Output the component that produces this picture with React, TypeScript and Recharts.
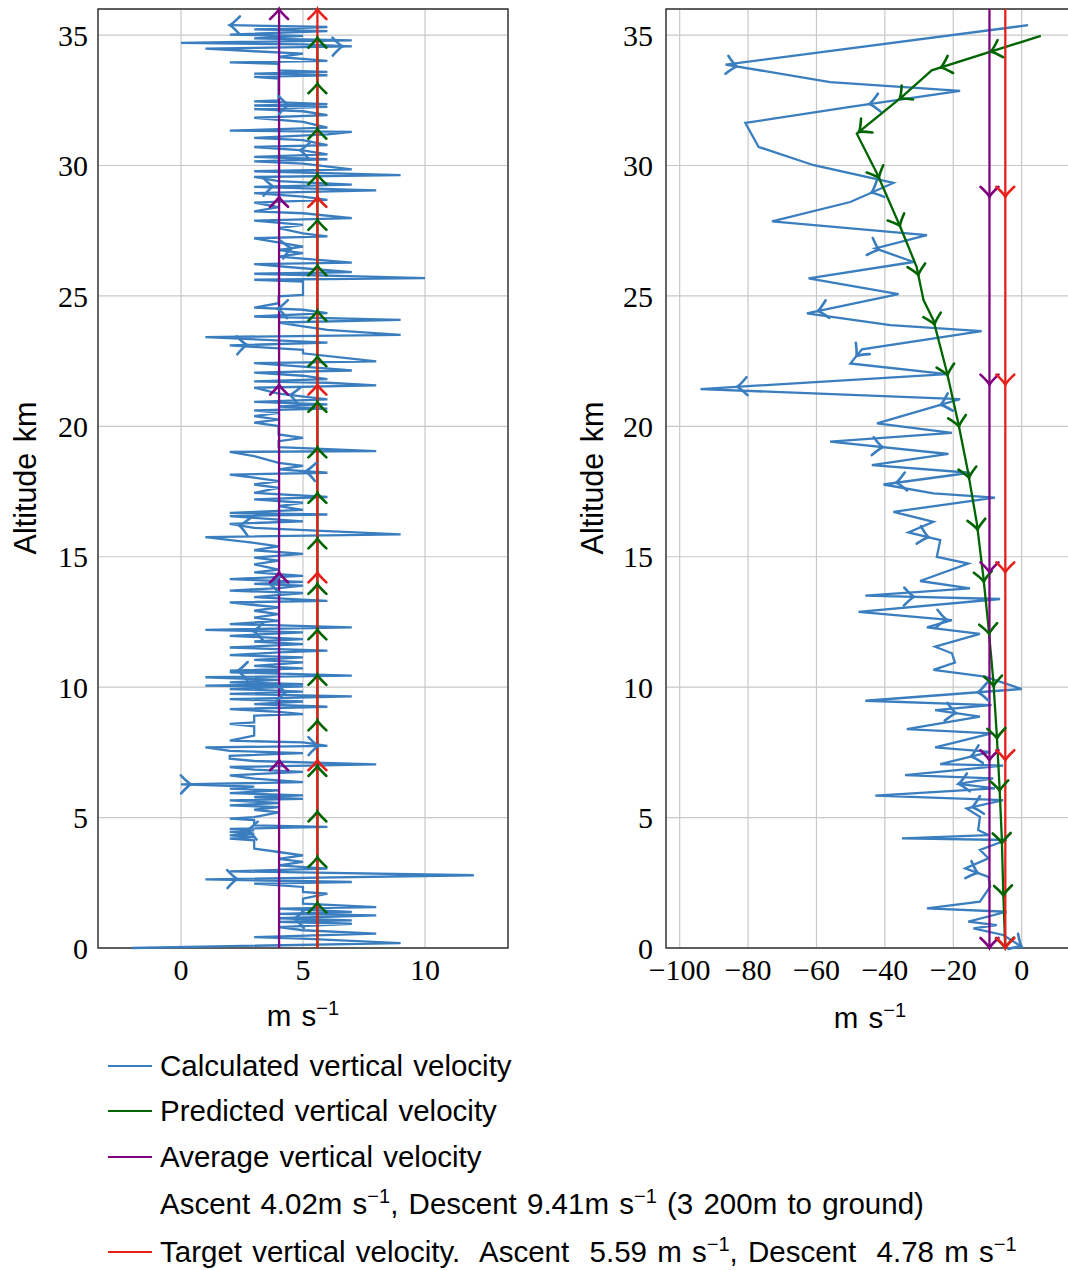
import React from 'react';
import { LineChart, Line, XAxis, YAxis, CartesianGrid, ReferenceArea } from 'recharts';

// ---- data: [velocity m/s, altitude km] ----
const ascentCalculated: [number, number][] = [
  [-2, 0.0], [9, 0.19], [5, 0.36], [3, 0.42], [8, 0.55], [5, 0.68], [4, 0.8], [7, 0.93], [4, 1.0], [7, 1.06],
  [4, 1.14], [8, 1.25], [4, 1.31], [7, 1.38], [4, 1.51], [8, 1.57], [5, 1.7], [5, 1.89], [6, 2.08], [5, 2.15],
  [5, 2.34], [3, 2.47], [7, 2.53], [1, 2.63], [12, 2.79], [2, 2.94], [6, 3.04], [4, 3.17], [5, 3.3], [4, 3.42],
  [5, 3.55], [4, 3.68], [3, 3.81], [3, 4.13], [2, 4.19], [3, 4.25], [2, 4.32], [3, 4.38], [2, 4.45], [3, 4.51],
  [2, 4.57], [6, 4.64], [3, 4.7], [3, 4.9], [2, 4.96], [3, 5.02], [4, 5.2], [3, 5.3], [4, 5.4], [2, 5.47],
  [4, 5.56], [2, 5.66], [5, 5.72], [3, 5.79], [5, 5.85], [2, 5.94], [4, 6.04], [2, 6.11], [3, 6.19], [0, 6.27],
  [5, 6.36], [3, 6.49], [2, 6.62], [5, 6.75], [3, 6.84], [2, 6.94], [8, 7.04], [3, 7.17], [2, 7.26], [2, 7.37],
  [5, 7.47], [2, 7.56], [1, 7.69], [6, 7.75], [5, 7.88], [2, 7.95], [3, 8.14], [3, 8.5], [2, 8.59], [3, 8.65],
  [3, 8.91], [5, 8.97], [4, 9.05], [2, 9.16], [6, 9.25], [3, 9.35], [5, 9.45], [2, 9.54], [7, 9.65], [2, 9.74],
  [5, 9.83], [2, 9.93], [5, 10.03], [1, 10.06], [5, 10.12], [2, 10.18], [4, 10.28], [1, 10.38], [7, 10.44], [2, 10.57],
  [4, 10.6], [2, 10.63], [5, 10.72], [3, 10.82], [5, 10.95], [3, 11.05], [5, 11.14], [2, 11.23], [4, 11.33], [6, 11.4],
  [2, 11.52], [5, 11.65], [3, 11.75], [5, 11.84], [2, 11.97], [5, 12.1], [1, 12.2], [7, 12.29], [2, 12.42], [4, 12.54],
  [3, 12.67], [4, 12.8], [3, 12.93], [4, 13.06], [3, 13.15], [2, 13.25], [6, 13.31], [3, 13.45], [5, 13.61], [2, 13.7],
  [4, 13.8], [5, 13.89], [3, 13.96], [5, 14.04], [2, 14.14], [5, 14.27], [3, 14.4], [4, 14.51], [3, 14.71], [4, 14.85],
  [3, 14.97], [5, 15.11], [3, 15.25], [4, 15.4], [3, 15.53], [1, 15.75], [9, 15.86], [3, 16.11], [2, 16.26], [5, 16.36],
  [3, 16.49], [2, 16.56], [6, 16.62], [2, 16.68], [5, 16.8], [4, 16.94], [5, 17.07], [3, 17.2], [6, 17.29], [3, 17.45],
  [4, 17.64], [3, 17.77], [4, 17.9], [3, 18.03], [2, 18.15], [6, 18.22], [4, 18.35], [5, 18.48], [4, 18.6], [3, 18.86],
  [2, 19.02], [8, 19.05], [4, 19.2], [4, 19.43], [5, 19.56], [4, 19.69], [4, 20.01], [3, 20.14], [4, 20.26], [3, 20.39],
  [4, 20.52], [3, 20.61], [6, 20.68], [4, 20.76], [6, 20.84], [3, 20.94], [6, 21.03], [4, 21.25], [3, 21.48], [8, 21.57],
  [6, 21.67], [3, 21.72], [6, 21.81], [5, 21.94], [3, 22.06], [7, 22.14], [5, 22.29], [3, 22.42], [8, 22.49], [5, 22.8],
  [5, 22.93], [2, 23.1], [6, 23.21], [1, 23.42], [9, 23.51], [6, 23.7], [5, 23.83], [4, 23.98], [9, 24.08], [3, 24.21],
  [6, 24.34], [5, 24.47], [3, 24.55], [4, 24.72], [4, 24.98], [5, 25.04], [5, 25.55], [3, 25.62], [10, 25.68], [3, 25.85],
  [7, 25.91], [5, 26.06], [3, 26.22], [7, 26.28], [4, 26.51], [5, 26.64], [4, 26.76], [5, 26.89], [3, 27.21], [6, 27.28],
  [5, 27.4], [4, 27.6], [5, 27.72], [3, 27.89], [7, 27.98], [5, 28.17], [3, 28.24], [4, 28.4], [3, 28.58], [6, 28.68],
  [5, 28.81], [3, 28.94], [8, 29.05], [3, 29.18], [7, 29.27], [4, 29.4], [3, 29.56], [9, 29.63], [3, 29.78], [7, 29.85],
  [5, 30.07], [3, 30.16], [6, 30.24], [3, 30.33], [6, 30.43], [5, 30.58], [3, 30.71], [6, 30.78], [5, 30.97], [3, 31.06],
  [6, 31.19], [7, 31.29], [2, 31.34], [6, 31.45], [5, 31.67], [3, 31.83], [6, 31.93], [5, 32.08], [3, 32.16], [6, 32.25],
  [3, 32.3], [6, 32.35], [3, 32.46], [4, 32.5], [4, 33.33], [3, 33.4], [6, 33.46], [3, 33.52], [6, 33.59], [4, 33.65],
  [4, 33.9], [2, 33.95], [6, 34.01], [4, 34.16], [5, 34.29], [3, 34.38], [1, 34.48], [7, 34.57], [5, 34.64], [0, 34.7],
  [7, 34.8], [3, 34.87], [5, 34.97], [2, 35.02], [6, 35.15], [3, 35.22], [6, 35.31], [2, 35.38],
];

const ascentPredicted: [number, number][] = [[5.59, 0], [5.59, 34.9]];
const ascentAverage: [number, number][] = [[4.02, 0], [4.02, 36]];
const ascentTarget: [number, number][] = [[5.59, 0], [5.59, 36]];

const descentCalculated: [number, number][] = [
  [1.9, 35.38], [-86.6, 33.87], [-56.0, 33.2], [-18.0, 32.86], [-50.1, 32.25], [-80.8, 31.63], [-76.9, 30.71],
  [-60.8, 30.01], [-37.5, 29.33], [-50.1, 28.6], [-73.0, 27.86], [-27.7, 27.33], [-42.8, 26.82], [-31.6, 26.3],
  [-62.3, 25.67], [-36.0, 25.07], [-62.8, 24.33], [-38.4, 23.88], [-11.7, 23.65], [-46.7, 22.95], [-50.1, 22.41],
  [-21.9, 22.0], [-93.9, 21.43], [-18.0, 21.04], [-42.3, 20.11], [-20.4, 19.75], [-56.0, 19.41], [-21.4, 18.94],
  [-43.8, 18.51], [-15.1, 18.22], [-40.4, 17.77], [-25.8, 17.43], [-7.8, 17.27], [-37.5, 16.72], [-25.8, 16.34],
  [-33.1, 15.93], [-23.8, 15.64], [-24.8, 15.0], [-15.6, 14.74], [-29.7, 14.07], [-15.1, 13.79], [-45.7, 13.51],
  [-6.3, 13.38], [-47.7, 12.89], [-20.4, 12.57], [-27.7, 12.29], [-12.2, 12.04], [-25.3, 11.55], [-20.4, 11.3],
  [-19.5, 10.94], [-25.8, 10.66], [-10.7, 10.4], [0.0, 9.93], [-45.7, 9.48], [-8.8, 9.31], [-25.3, 9.12],
  [-12.2, 8.87], [-33.6, 8.39], [-8.8, 8.23], [-25.3, 7.69], [-9.2, 7.52], [-23.8, 7.05], [-5.4, 6.99],
  [-34.1, 6.63], [-8.3, 6.5], [-18.5, 6.29], [-7.8, 6.12], [-42.8, 5.84], [-5.4, 5.67], [-16.1, 5.35],
  [-12.2, 5.03], [-12.7, 4.52], [-9.7, 4.33], [-35.0, 4.2], [-4.4, 4.14], [-12.2, 3.76], [-9.7, 3.44],
  [-16.5, 3.05], [-9.7, 2.73], [-9.2, 2.35], [-12.2, 1.78], [-27.7, 1.52], [-4.4, 1.39], [-15.6, 1.01],
  [-7.3, 0.88], [-14.1, 0.75], [-5.4, 0.5], [0.0, 0.05],
];

const descentPredicted: [number, number][] = [
  [5.6, 34.97], [-26.3, 33.65], [-35.0, 32.63], [-48.2, 31.22], [-42.3, 29.69], [-35.5, 27.65], [-30.7, 26.11],
  [-28.7, 24.84], [-25.8, 24.07], [-21.9, 22.09], [-18.5, 20.11], [-15.6, 18.19], [-13.1, 16.28], [-11.2, 14.23],
  [-9.7, 12.3], [-8.3, 10.27], [-7.3, 8.23], [-6.5, 6.25], [-5.8, 4.2], [-5.4, 2.22], [-4.8, 0.0],
];
const descentAverage: [number, number][] = [[-9.41, 36], [-9.41, 0]];
const descentTarget: [number, number][] = [[-4.78, 36], [-4.78, 0]];

const altitudeTicks = [0, 5, 10, 15, 20, 25, 30, 35];
const ascentTicks = [0, 5, 10];
const descentTicks = [-100, -80, -60, -40, -20, 0];

const BLUE = '#3a7ebf';
const GREEN = '#006400';
const PURPLE = '#800080';
const RED = '#e8201c';

const SERIF = '"Liberation Serif", "DejaVu Serif", serif';
const SANS = '"Liberation Sans", Arial, sans-serif';

const toRows = (rows: [number, number][]) => rows.map(([v, alt]) => ({ v, alt }));

// chevron arrows spread along the path by length, like a tikz markings decoration
function arrowDot(color: string, step: number, count: number) {
  const seen: { x: number; y: number }[] = [];
  return (props: any) => {
    const { index, cx, cy } = props;
    if (index === 0) seen.length = 0;
    seen[index] = { x: cx, y: cy };
    if (index !== count - 1) return <g key={`d${index}`} />;
    const pts: { x: number; y: number }[] =
      props.points && props.points.length === count
        ? props.points.map((p: any) => ({ x: p.x, y: p.y }))
        : seen.slice();
    const lens = [0];
    for (let i = 1; i < pts.length; i++) {
      lens.push(lens[i - 1] + Math.hypot(pts[i].x - pts[i - 1].x, pts[i].y - pts[i - 1].y));
    }
    const total = lens[lens.length - 1];
    const marks: React.ReactNode[] = [];
    const n = Math.round(1 / step);
    for (let k = 1; k <= n; k++) {
      const target = (k / n) * total;
      let s = 1;
      while (s < pts.length - 1 && lens[s] < target) s++;
      const a = pts[s - 1];
      const b = pts[s];
      const segLen = lens[s] - lens[s - 1] || 1;
      const t = (target - lens[s - 1]) / segLen;
      const x = a.x + (b.x - a.x) * t;
      const y = a.y + (b.y - a.y) * t;
      const ang = (Math.atan2(b.y - a.y, b.x - a.x) * 180) / Math.PI;
      marks.push(
        <path
          key={k}
          d="M -10 -9 Q -3 -1.5 0 0 Q -3 1.5 -10 9"
          transform={`translate(${x},${y}) rotate(${ang})`}
          fill="none"
          stroke={color}
          strokeWidth={2.6}
          strokeLinecap="round"
        />
      );
    }
    return <g key={`d${index}`}>{marks}</g>;
  };
}

interface Series { rows: [number, number][]; color: string; step: number }

interface PanelProps {
  left: number;
  width: number;
  yAxisWidth: number;
  marginRight: number;
  xDomain: [number, number];
  xTicks: number[];
  yTickMargin: number;
  series: Series[];
}

const fmt = (v: number) => (v < 0 ? `\u2212${Math.abs(v)}` : `${v}`);

function Panel({ left, width, yAxisWidth, marginRight, xDomain, xTicks, yTickMargin, series }: PanelProps) {
  return (
    <div style={{ position: 'absolute', left, top: 0 }}>
      <LineChart width={width} height={1000} margin={{ top: 9, right: marginRight, left: 0, bottom: 0 }}>
        <CartesianGrid stroke="#c8c8c8" strokeWidth={1.2} />
        <XAxis
          type="number"
          dataKey="v"
          domain={xDomain}
          ticks={xTicks}
          tickFormatter={fmt}
          height={52}
          axisLine={false}
          tickLine={false}
          tickSize={6}
          tickMargin={5}
          tick={{ fill: '#000', fontSize: 30, fontFamily: SERIF }}
        />
        <YAxis
          type="number"
          domain={[0, 36]}
          ticks={altitudeTicks}
          width={yAxisWidth}
          axisLine={false}
          tickLine={false}
          tickSize={6}
          tickMargin={yTickMargin}
          tick={{ fill: '#000', fontSize: 30, fontFamily: SERIF }}
        />
        {series.map((s, i) => (
          <Line
            key={i}
            data={toRows(s.rows)}
            dataKey="alt"
            type="linear"
            stroke={s.color}
            strokeWidth={2.3}
            dot={arrowDot(s.color, s.step, s.rows.length)}
            activeDot={false}
            isAnimationActive={false}
          />
        ))}
        <ReferenceArea x1={xDomain[0]} x2={xDomain[1]} y1={0} y2={36} fill="none" stroke="#333" strokeWidth={1.4} />
      </LineChart>
    </div>
  );
}

const Sup = ({ children }: { children: React.ReactNode }) => (
  <span style={{ fontSize: '0.68em', position: 'relative', top: '-0.55em' }}>{children}</span>
);

const legendRows: { text: React.ReactNode; color: string | null; y: number }[] = [
  { text: 'Calculated vertical velocity', color: BLUE, y: 1066 },
  { text: 'Predicted vertical velocity', color: GREEN, y: 1111 },
  { text: 'Average vertical velocity', color: PURPLE, y: 1157 },
  {
    text: (
      <>
        Ascent 4.02m s<Sup>{'\u22121'}</Sup>, Descent 9.41m s<Sup>{'\u22121'}</Sup> (3 200m to ground)
      </>
    ),
    color: null,
    y: 1204,
  },
  {
    text: (
      <>
        Target vertical velocity.  Ascent  5.59 m s<Sup>{'\u22121'}</Sup>, Descent  4.78 m s<Sup>{'\u22121'}</Sup>
      </>
    ),
    color: RED,
    y: 1252,
  },
];

export default function App() {
  const label = {
    position: 'absolute' as const,
    fontFamily: SANS,
    fontSize: 29.5,
    wordSpacing: 2,
    whiteSpace: 'pre' as const,
    color: '#000',
  };
  return (
    <div style={{ position: 'fixed', left: 0, top: 0, width: 1068, height: 1270, overflow: 'hidden', background: '#fff' }}>
      <Panel
        left={0}
        width={520}
        yAxisWidth={98}
        marginRight={12}
        xDomain={[-3.4, 13.4]}
        xTicks={ascentTicks}
        yTickMargin={4}
        series={[
          { rows: ascentCalculated, color: BLUE, step: 0.05 },
          { rows: ascentPredicted, color: GREEN, step: 0.05 },
          { rows: ascentAverage, color: PURPLE, step: 0.2 },
          { rows: ascentTarget, color: RED, step: 0.2 },
        ]}
      />
      <Panel
        left={566}
        width={524}
        yAxisWidth={100}
        marginRight={15}
        xDomain={[-104, 15.6]}
        xTicks={descentTicks}
        yTickMargin={7}
        series={[
          { rows: descentCalculated, color: BLUE, step: 0.05 },
          { rows: descentPredicted, color: GREEN, step: 0.05 },
          { rows: descentAverage, color: PURPLE, step: 0.2 },
          { rows: descentTarget, color: RED, step: 0.2 },
        ]}
      />
      {[25, 592].map((x) => (
        <div key={x} style={{ ...label, fontSize: 30.5, left: x, top: 478, transform: 'translate(-50%, -50%) rotate(-90deg)' }}>
          Altitude km
        </div>
      ))}
      {[
        [303, 1017],
        [870, 1019],
      ].map(([x, y]) => (
        <div key={x} style={{ ...label, left: x, top: y, transform: 'translate(-50%, -50%)', lineHeight: '40px' }}>
          m s<Sup>{'\u22121'}</Sup>
        </div>
      ))}
      {legendRows.map((r, i) => (
        <React.Fragment key={i}>
          {r.color && (
            <div style={{ position: 'absolute', left: 108, top: r.y - 1, width: 44, height: 2, background: r.color }} />
          )}
          <div style={{ ...label, left: 160, top: r.y - 20, height: 40, lineHeight: '40px' }}>{r.text}</div>
        </React.Fragment>
      ))}
    </div>
  );
}
